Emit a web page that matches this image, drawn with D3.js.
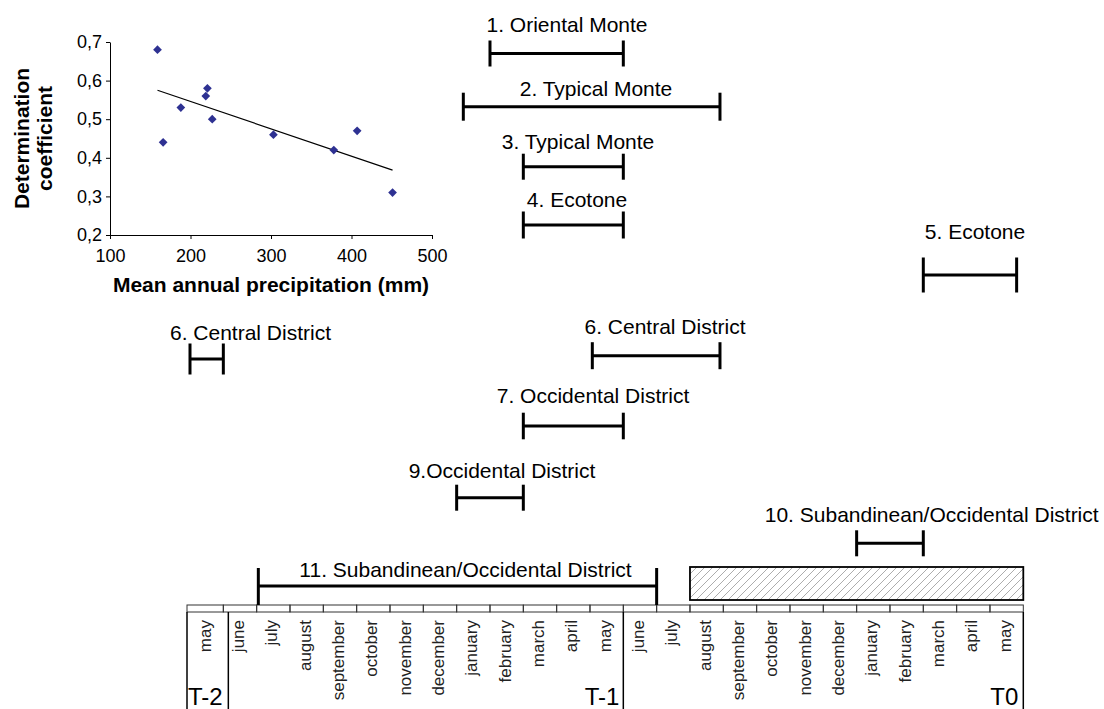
<!DOCTYPE html>
<meta charset="utf-8">
<body style="margin:0;background:#fff">
<script src="https://cdn.jsdelivr.net/npm/d3@7"></script>
<script>

var VP = {w: 1104, h: 709};

// inset scatter: mean annual precipitation vs determination coefficient
var precip  = [159, 166, 188, 219, 221, 227, 303, 378, 407, 451];
var detCoef = [0.68, 0.44, 0.53, 0.56, 0.58, 0.50, 0.46, 0.42, 0.47, 0.31];
var xTicks = [100, 200, 300, 400, 500];
var yTicks = [0.2, 0.3, 0.4, 0.5, 0.6, 0.7];

// month strip, index 0 = may of T-2
var months = ['may', 'june', 'july', 'august', 'september', 'october', 'november',
  'december', 'january', 'february', 'march', 'april', 'may',
  'june', 'july', 'august', 'september', 'october', 'november',
  'december', 'january', 'february', 'march', 'april', 'may'];
var years = ['T-2', 'T-1', 'T0'];

// response windows (months from start of strip)
var winLabel = ['1. Oriental Monte', '2. Typical Monte', '3. Typical Monte', '4. Ecotone',
  '5. Ecotone', '6. Central District', '6. Central District', '7. Occidental District',
  '9.Occidental District', '10. Subandinean/Occidental District', '11. Subandinean/Occidental District'];
var winStart = [9, 8.2, 10, 10, 22, 0, 12.07, 10, 8, 20, 2.05];
var winEnd   = [13, 15.9, 13, 13, 24.8, 1, 15.9, 13, 10, 22, 14];
var hatchSpan = [15, 25];

// layout of the window rows
var rowY = [53.5, 106.7, 166.7, 225, 275, 359, 355.7, 426, 497.7, 543.3, 586];
var labY = [31.7, 96, 149.3, 206.7, 239, 340, 334, 402.7, 477.7, 521.7, 576.7];
var labX = [567, 596, 578, 577, 975, 250.5, 665, 593, 502, 931.7, 465.5];
var capH = [13, 14, 13, 13.5, 17.5, 15.5, 13.5, 13.3, 13, 13, 18];

var FONT = 'Liberation Sans, Arial, sans-serif';

var svg = d3.select('body').append('svg')
  .attr('width', VP.w).attr('height', VP.h)
  .style('font-family', FONT);

// ---------- scatter ----------
var sx = d3.scaleLinear().domain([100, 500]).range([110, 432]);
var sy = d3.scaleLinear().domain([0.2, 0.7]).range([235, 42]);
var comma = v => d3.format('.1f')(v).replace('.', ',');

var gx = svg.append('g').attr('transform', 'translate(0,' + sy(0.2) + ')')
  .call(d3.axisBottom(sx).tickValues(xTicks).tickSize(4).tickSizeOuter(0).tickPadding(10).tickFormat(d3.format('d')));
var gy = svg.append('g').attr('transform', 'translate(' + sx(100) + ',0)')
  .call(d3.axisLeft(sy).tickValues(yTicks).tickSize(4).tickSizeOuter(0).tickPadding(4).tickFormat(comma));
[gx, gy].forEach(g => {
  g.attr('font-family', FONT).attr('font-size', 18);
  g.selectAll('text').attr('fill', '#000');
  g.selectAll('path,line').attr('stroke', '#000');
});

// least squares trend
var mx = d3.mean(precip), my = d3.mean(detCoef);
var slope = d3.sum(precip, (p, i) => (p - mx) * (detCoef[i] - my)) / d3.sum(precip, p => (p - mx) * (p - mx));
var icpt = my - slope * mx;
var ext = d3.extent(precip);
svg.append('line')
  .attr('x1', sx(ext[0])).attr('y1', sy(icpt + slope * ext[0]))
  .attr('x2', sx(ext[1])).attr('y2', sy(icpt + slope * ext[1]))
  .attr('stroke', '#000').attr('stroke-width', 1.2);

svg.selectAll('.pt').data(precip).enter().append('path')
  .attr('class', 'pt')
  .attr('d', d3.symbol().type(d3.symbolSquare).size(38))
  .attr('transform', (p, i) => 'translate(' + sx(p) + ',' + sy(detCoef[i]) + ') rotate(45)')
  .attr('fill', '#2e3192');

svg.append('text')
  .text('Mean annual precipitation (mm)')
  .attr('x', (sx(100) + sx(500)) / 2).attr('y', 291.7)
  .attr('text-anchor', 'middle').attr('font-weight', 'bold').attr('font-size', 21);
[['Determination', 29], ['coefficient', 52]].forEach(l => {
  svg.append('text').text(l[0])
    .attr('transform', 'translate(' + l[1] + ',' + (sy(0.2) + sy(0.7)) / 2 + ') rotate(-90)')
    .attr('text-anchor', 'middle').attr('font-weight', 'bold').attr('font-size', 21);
});

// ---------- month strip ----------
var x = d3.scaleLinear().domain([0, 25]).range([190, 1023.3]);
var stripTop = 605, stripBot = 612;
var left = x(0) - 3;

svg.selectAll('.cell').data(months).enter().append('rect')
  .attr('class', 'cell')
  .attr('x', (m, i) => i ? x(i) : left)
  .attr('width', (m, i) => x(i + 1) - (i ? x(i) : left))
  .attr('y', stripTop).attr('height', stripBot - stripTop)
  .attr('fill', 'none').attr('stroke', '#333').attr('stroke-width', 1);

var seps = [left, x(1) + 5, x(13), x(25)];
svg.selectAll('.sep').data(seps).enter().append('line')
  .attr('x1', d => d).attr('x2', d => d)
  .attr('y1', stripBot).attr('y2', VP.h)
  .attr('stroke', '#000').attr('stroke-width', 1.5);

svg.selectAll('.mon').data(months).enter().append('text')
  .text(d => d)
  .attr('transform', (d, i) => 'translate(' + (x(i + 0.5) - 1) + ',620) rotate(-90)')
  .attr('dy', '0.3em')
  .attr('text-anchor', 'end').attr('font-size', 17).attr('fill', '#222');

svg.selectAll('.yr').data(years).enter().append('text')
  .text(d => d)
  .attr('x', (d, i) => [left + 1, x(13) - 4, x(25) - 5][i])
  .attr('y', 705)
  .attr('text-anchor', (d, i) => i ? 'end' : 'start')
  .attr('font-size', 24);

// hatched period
var defs = svg.append('defs');
defs.append('pattern').attr('id', 'hatch')
  .attr('patternUnits', 'userSpaceOnUse').attr('width', 8).attr('height', 8)
  .append('path').attr('d', 'M-2,2l4,-4M0,8l8,-8M6,10l4,-4')
  .attr('stroke', '#8a8a8a').attr('stroke-width', 0.7);
svg.append('rect')
  .attr('x', x(hatchSpan[0])).attr('width', x(hatchSpan[1]) - x(hatchSpan[0]))
  .attr('y', 567).attr('height', 33)
  .attr('fill', 'url(#hatch)').attr('stroke', '#000').attr('stroke-width', 1.8);

// ---------- windows ----------
winLabel.forEach((lab, i) => {
  var g = svg.append('g').attr('stroke', '#000').attr('stroke-width', 3);
  var y = rowY[i];
  var bot = i === 10 ? stripTop : y + capH[i];
  g.append('line').attr('x1', x(winStart[i])).attr('x2', x(winEnd[i])).attr('y1', y).attr('y2', y);
  [winStart[i], winEnd[i]].forEach(m => {
    g.append('line').attr('x1', x(m)).attr('x2', x(m)).attr('y1', y - capH[i]).attr('y2', bot);
  });
  svg.append('text').text(lab)
    .attr('x', labX[i]).attr('y', labY[i])
    .attr('text-anchor', 'middle').attr('font-size', 21);
});

</script>
</body>
